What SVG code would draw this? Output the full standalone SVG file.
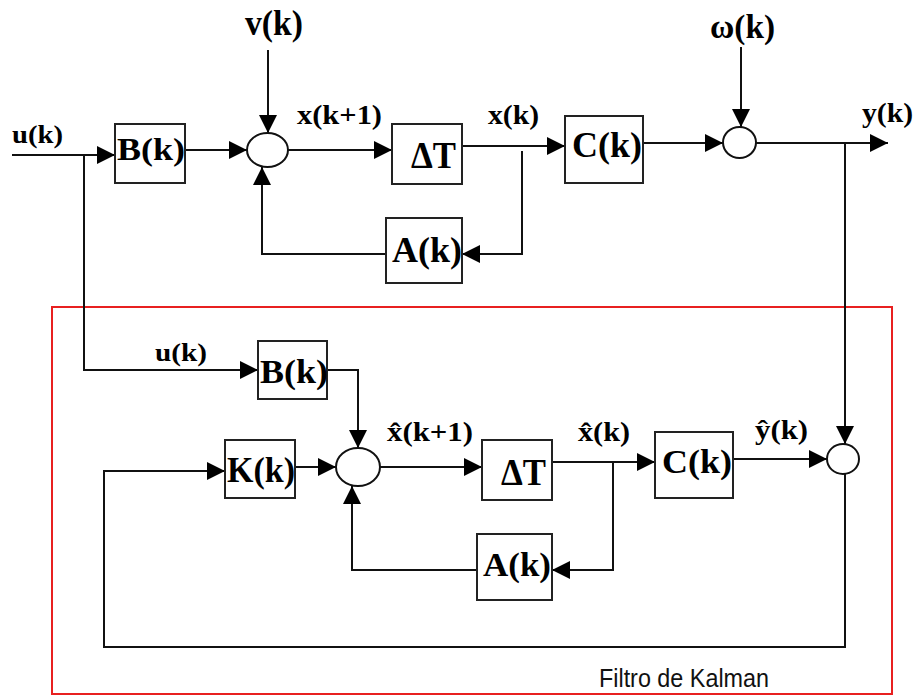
<svg xmlns="http://www.w3.org/2000/svg" width="916" height="696" viewBox="0 0 916 696">
<style>
.ln{fill:none;stroke:#111;stroke-width:2}
.bx{fill:#fff;stroke:#222;stroke-width:2}
.sm{fill:#fff;stroke:#111;stroke-width:2}
.t{font-family:"Liberation Serif","Times New Roman",serif;font-weight:bold;fill:#000}
.d{font-family:"Liberation Serif","Times New Roman",serif;fill:#000}
.k{font-family:"Liberation Sans",Arial,sans-serif;fill:#111}
</style>
<defs>
<marker id="ah" markerUnits="userSpaceOnUse" markerWidth="18" markerHeight="18" refX="18" refY="9" orient="auto">
<path d="M0,0 L18,9 L0,18 z" fill="#000"/>
</marker>
</defs>
<rect width="916" height="696" fill="#fff"/>
<rect id="kalman" x="52" y="307" width="840" height="387" fill="none" stroke="#e82020" stroke-width="2"/>
<g id="connectors">
<path class="ln" d="M12,155 H115" marker-end="url(#ah)"/>
<path class="ln" d="M84,155 V370 H258" marker-end="url(#ah)"/>
<path class="ln" d="M185,150 H247" marker-end="url(#ah)"/>
<path class="ln" d="M268,50 V133" marker-end="url(#ah)"/>
<path class="ln" d="M288,150 H392" marker-end="url(#ah)"/>
<path class="ln" d="M462,146 H565" marker-end="url(#ah)"/>
<path class="ln" d="M522,151 V254 H462" marker-end="url(#ah)"/>
<path class="ln" d="M386,254 H262 V167" marker-end="url(#ah)"/>
<path class="ln" d="M643,143 H723" marker-end="url(#ah)"/>
<path class="ln" d="M741,47 V127" marker-end="url(#ah)"/>
<path class="ln" d="M756,143 H888" marker-end="url(#ah)"/>
<path class="ln" d="M845,143 V444" marker-end="url(#ah)"/>
<path class="ln" d="M327,370 H358 V448" marker-end="url(#ah)"/>
<path class="ln" d="M295,467 H336" marker-end="url(#ah)"/>
<path class="ln" d="M380,467 H482" marker-end="url(#ah)"/>
<path class="ln" d="M552,462 H655" marker-end="url(#ah)"/>
<path class="ln" d="M613,463 V570 H552" marker-end="url(#ah)"/>
<path class="ln" d="M477,570 H352 V486" marker-end="url(#ah)"/>
<path class="ln" d="M733,459 H827" marker-end="url(#ah)"/>
<path class="ln" d="M845,474 V647 H104 V471 H225" marker-end="url(#ah)"/>
</g>
<g id="labels">
<text class="t" x="12" y="143" font-size="26" textLength="51" lengthAdjust="spacingAndGlyphs">u(k)</text>
<text class="t" x="245" y="35" font-size="36" textLength="58" lengthAdjust="spacingAndGlyphs">v(k)</text>
<text class="t" x="297" y="124" font-size="27" textLength="85" lengthAdjust="spacingAndGlyphs">x(k+1)</text>
<text class="t" x="488" y="124" font-size="27" textLength="51" lengthAdjust="spacingAndGlyphs">x(k)</text>
<text class="t" x="710" y="38" font-size="34" textLength="65" lengthAdjust="spacingAndGlyphs">ω(k)</text>
<text class="t" x="862" y="122" font-size="27" textLength="51" lengthAdjust="spacingAndGlyphs">y(k)</text>
<text class="t" x="155" y="361" font-size="26" textLength="52" lengthAdjust="spacingAndGlyphs">u(k)</text>
<text class="t" x="387" y="441" font-size="27" textLength="86" lengthAdjust="spacingAndGlyphs">x̂(k+1)</text>
<text class="t" x="578" y="441" font-size="27" textLength="52" lengthAdjust="spacingAndGlyphs">x̂(k)</text>
<text class="t" x="755" y="439" font-size="27" textLength="53" lengthAdjust="spacingAndGlyphs">ŷ(k)</text>
<text class="k" x="599" y="687" font-size="26" textLength="170" lengthAdjust="spacingAndGlyphs">Filtro de Kalman</text>
</g>
<g id="B_top"><rect class="bx" x="115" y="124" width="70" height="59"/><text class="t" x="117" y="160" font-size="32" textLength="68" lengthAdjust="spacingAndGlyphs">B(k)</text></g>
<g id="sum1"><ellipse class="sm" cx="267.5" cy="150" rx="20.5" ry="17"/></g>
<g id="dT_top"><rect class="bx" x="392" y="124" width="70" height="60"/><text class="d" x="411" y="168" font-size="38" font-weight="600" textLength="45" lengthAdjust="spacingAndGlyphs">ΔT</text></g>
<g id="C_top"><rect class="bx" x="565" y="116" width="78" height="67"/><text class="t" x="572" y="157" font-size="36" textLength="70" lengthAdjust="spacingAndGlyphs">C(k)</text></g>
<g id="sum2"><ellipse class="sm" cx="739.5" cy="142.5" rx="16.5" ry="15.5"/></g>
<g id="A_top"><rect class="bx" x="386" y="218" width="76" height="65"/><text class="t" x="392" y="262" font-size="36" textLength="70" lengthAdjust="spacingAndGlyphs">A(k)</text></g>
<g id="B_low"><rect class="bx" x="258" y="341" width="69" height="58"/><text class="t" x="260" y="383" font-size="34" textLength="68" lengthAdjust="spacingAndGlyphs">B(k)</text></g>
<g id="K"><rect class="bx" x="225" y="440" width="70" height="58"/><text class="t" x="227" y="482" font-size="36" textLength="68" lengthAdjust="spacingAndGlyphs">K(k)</text></g>
<g id="sum3"><ellipse class="sm" cx="358" cy="467" rx="22" ry="19"/></g>
<g id="dT_low"><rect class="bx" x="482" y="440" width="70" height="60"/><text class="d" x="501" y="485" font-size="38" font-weight="600" textLength="45" lengthAdjust="spacingAndGlyphs">ΔT</text></g>
<g id="C_low"><rect class="bx" x="655" y="432" width="78" height="66"/><text class="t" x="662" y="473" font-size="34" textLength="70" lengthAdjust="spacingAndGlyphs">C(k)</text></g>
<g id="sum4"><ellipse class="sm" cx="843" cy="459" rx="16" ry="15"/></g>
<g id="A_low"><rect class="bx" x="477" y="534" width="75" height="66"/><text class="t" x="483" y="576" font-size="34" textLength="68" lengthAdjust="spacingAndGlyphs">A(k)</text></g>
</svg>
